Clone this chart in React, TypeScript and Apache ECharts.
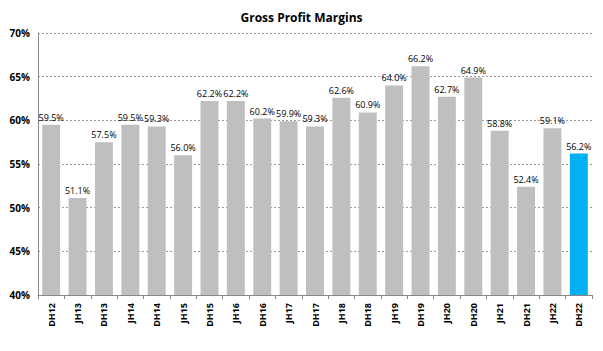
import React, { useEffect, useRef } from "react";
import * as echarts from "echarts";

const categories = ["DH12","JH13","DH13","JH14","DH14","JH15","DH15","JH16","DH16","JH17","DH17","JH18","DH18","JH19","DH19","JH20","DH20","JH21","DH21","JH22","DH22"];
const values = [59.5,51.1,57.5,59.5,59.3,56.0,62.2,62.2,60.2,59.9,59.3,62.6,60.9,64.0,66.2,62.7,64.9,58.8,52.4,59.1,56.2];
const highlightIndex = 20;

export default function App() {
  const ref = useRef<HTMLDivElement>(null);
  useEffect(() => {
    const chart = echarts.init(ref.current!, null, { renderer: "svg" });
    chart.setOption({
      animation: false,
      title: {
        text: "Gross Profit Margins",
        left: "center",
        top: 6,
        textStyle: { fontFamily: "Open Sans", fontSize: 12, fontWeight: "bold", color: "#000" },
      },
      grid: { left: 38, right: 11, top: 33, bottom: 56 },
      xAxis: {
        type: "category",
        data: categories,
        axisLine: { lineStyle: { color: "#888" } },
        axisTick: { show: true, length: 4, lineStyle: { color: "#888" } },
        axisLabel: {
          rotate: 90,
          fontFamily: "Open Sans",
          fontSize: 9,
          fontWeight: "bold",
          color: "#000",
          margin: 8,
        },
      },
      yAxis: {
        type: "value",
        min: 40,
        max: 70,
        interval: 5,
        axisLine: { show: true, lineStyle: { color: "#888" } },
        axisTick: { show: false },
        splitLine: { lineStyle: { color: "#999", type: [2, 2] } },
        axisLabel: {
          formatter: (v: number) => v + "%",
          fontFamily: "Open Sans",
          fontSize: 10,
          fontWeight: "bold",
          color: "#000",
          margin: 8,
        },
      },
      series: [
        {
          type: "bar",
          barCategoryGap: "32%",
          data: values.map((v, i) => ({
            value: v,
            itemStyle: { color: i === highlightIndex ? "#00B0F0" : "#BFBFBF" },
          })),
          label: {
            show: true,
            position: "top",
            distance: 3,
            formatter: (p: any) => p.value.toFixed(1) + "%",
            fontFamily: "Open Sans",
            fontSize: 9,
            color: "#000",
          },
        },
      ],
    });
    return () => chart.dispose();
  }, []);
  return <div ref={ref} style={{ width: 603, height: 351, position: "absolute", left: 0, top: 0 }} />;
}
